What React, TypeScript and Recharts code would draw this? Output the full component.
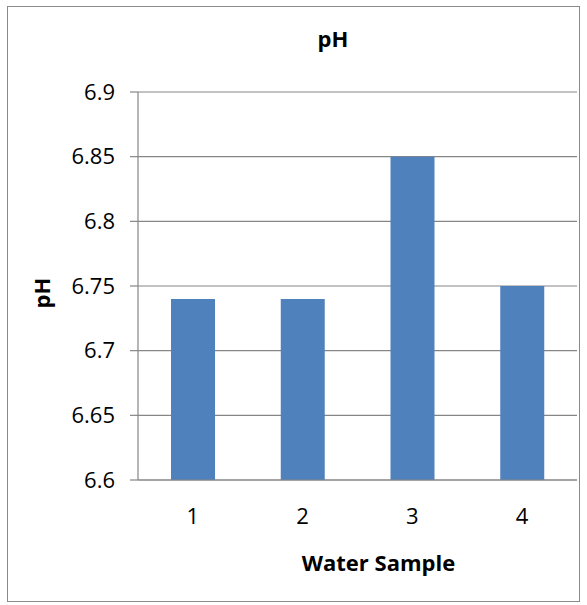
import React from 'react';
import { BarChart, Bar, XAxis, YAxis, CartesianGrid } from 'recharts';

const categories = ['1', '2', '3', '4'];
const phValues = [6.74, 6.74, 6.85, 6.75];
const yTicks = [6.6, 6.65, 6.7, 6.75, 6.8, 6.85, 6.9];

const data = categories.map((c, i) => ({ sample: c, ph: phValues[i] }));

const FONT = '"Open Sans", sans-serif';
const GRAY = '#868686';

export default function App() {
  return (
    <div style={{ position: 'absolute', left: 0, top: 0, width: 587, height: 605, background: '#fff' }}>
      <div
        style={{
          position: 'absolute',
          left: 7,
          top: 6,
          width: 573,
          height: 596,
          border: '1.5px solid #8a8a8a',
          boxSizing: 'border-box',
        }}
      />
      <BarChart
        width={587}
        height={605}
        data={data}
        margin={{ top: 92, right: 10, left: 0, bottom: 0 }}
        barSize={44}
        style={{ position: 'absolute', left: 0, top: 0 }}
      >
        <text x={333} y={47} textAnchor="middle" fontFamily={FONT} fontWeight="bold" fontSize={22} fill="#000">
          pH
        </text>
        <text
          x={0}
          y={0}
          transform="translate(50,293) rotate(-90)"
          textAnchor="middle"
          fontFamily={FONT}
          fontWeight="bold"
          fontSize={22}
          fill="#000"
        >
          pH
        </text>
        <CartesianGrid vertical={false} stroke={GRAY} strokeWidth={1.2} />
        <XAxis
          dataKey="sample"
          height={125}
          tickLine={false}
          tickSize={0}
          tickMargin={28}
          axisLine={{ stroke: GRAY, strokeWidth: 1.2 }}
          tick={{ fill: '#000', fontSize: 22, fontFamily: FONT }}
          label={{
            content: (props: any) => {
              const vb = props.viewBox;
              return (
                <text
                  x={vb.x + vb.width / 2 + 21}
                  y={571}
                  textAnchor="middle"
                  fontFamily={FONT}
                  fontWeight="bold"
                  fontSize={22}
                  fill="#000"
                >
                  Water Sample
                </text>
              );
            },
          }}
        />
        <YAxis
          width={138}
          domain={[6.6, 6.9]}
          ticks={yTicks}
          interval={0}
          tickSize={8}
          tickMargin={15}
          allowDataOverflow
          axisLine={{ stroke: GRAY, strokeWidth: 1.2 }}
          tickLine={{ stroke: GRAY, strokeWidth: 1.2 }}
          tick={{ fill: '#000', fontSize: 22, fontFamily: FONT }}
        />
        <Bar dataKey="ph" fill="#4F81BD" isAnimationActive={false} />
      </BarChart>
    </div>
  );
}
